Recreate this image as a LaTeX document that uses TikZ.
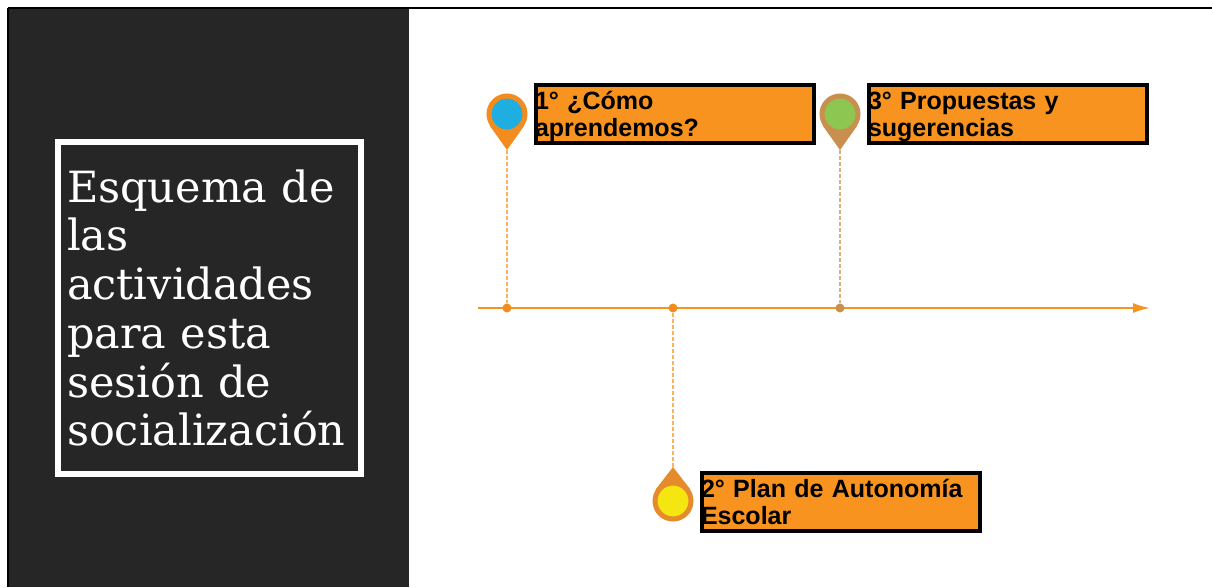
\documentclass[tikz,border=0pt]{standalone}
\usepackage{fontspec}
\setmainfont{DejaVu Serif}
\newfontfamily\boxfont{Liberation Sans}
\usetikzlibrary{positioning,arrows.meta}

\begin{document}
\begin{tikzpicture}[x=1pt,y=-1pt,
    titlebox/.style={draw=white,line width=5.5pt,fill=panel,text=white,minimum width=303pt,minimum height=332pt,inner sep=0pt,
      text width=285pt,align=left,font=\fontsize{43}{48.7}\selectfont},
    stepbox/.style={draw=black,line width=3.5pt,fill=boxorange,minimum width=278pt,minimum height=58pt,inner ysep=0pt,inner xsep=-1pt,
      text width=280pt,align=left,font=\boxfont\bfseries\fontsize{25}{27}\selectfont,
      execute at begin node=\rule{0pt}{24pt},execute at end node=\rule[-7pt]{0pt}{7pt}},
    pinhead/.style={circle,draw=#1,line width=5pt,inner sep=0pt,minimum size=36pt},
    tick/.style={circle,fill=#1,inner sep=0pt,minimum size=9pt},
    guide/.style={draw=#1,draw opacity=0.7,dashed,dash pattern=on 4pt off 2pt,line width=1.2pt},
    timeline/.style={draw=axisorange,line width=1.8pt,-{Latex[length=17pt,width=10pt]}}]
  \definecolor{panel}{HTML}{262626}
  \definecolor{boxorange}{HTML}{F7931E}
  \definecolor{axisorange}{HTML}{F7931E}
  \definecolor{pinorange}{HTML}{F28C1E}
  \definecolor{pinbrown}{HTML}{C98F4E}
  \definecolor{pindrop}{HTML}{E58B2B}
  \definecolor{pinblue}{HTML}{1FAEE0}
  \definecolor{pingreen}{HTML}{8DC650}
  \definecolor{pinyellow}{HTML}{F5E611}
  \useasboundingbox (0,0) rectangle (1212,587);
  \fill[white] (0,0) rectangle (1212,587);
  % dark side panel and top edge
  \fill[panel] (8,8) rectangle (409,587);
  \draw[black,line width=1.5pt] (8,8) -- (1212,8);
  \draw[black,line width=1.5pt] (8,8) -- (8,587);
  \node[titlebox] (title) at (209.5,308) {Esquema de\\las\\actividades\\para esta\\sesión de\\socialización};
  % timeline
  \coordinate (start) at (478,308);
  \coordinate (end) at (1150,308);
  \draw[timeline] (start) -- (end);
  \node[tick=pinorange] (T1) at (507,308) {};
  \node[tick=pinorange] (T2) at (673,308) {};
  \node[tick=pinbrown] (T3) at (840,308) {};
  % pin tips
  \coordinate (P1) at (507,150);
  \coordinate (P2) at (673,467);
  \coordinate (P3) at (840,150);
  \draw[guide=axisorange] (P1) -- (T1);
  \draw[guide=axisorange] (P2) -- (T2);
  \draw[guide=pinbrown] (P3) -- (T3);
  \fill[pinorange] (P1) -- (490,126) -- (524,126) -- cycle;
  \fill[pindrop] (P2) -- (656,489) -- (690,489) -- cycle;
  \fill[pinbrown] (P3) -- (823,126) -- (857,126) -- cycle;
  \node[pinhead=pinorange,fill=pinblue] (A) at (507,114) {};
  \node[pinhead=pindrop,fill=pinyellow] (B) at (673,501) {};
  \node[pinhead=pinbrown,fill=pingreen] (C) at (840,114) {};
  % labels
  \node[stepbox] (S1) at (675,114) {1° ¿Cómo\\aprendemos?};
  \node[stepbox] (S2) at (841,502) {2° Plan de Autonomía\\Escolar};
  \node[stepbox] (S3) at (1008,114) {3° Propuestas y\\sugerencias};
\end{tikzpicture}
\end{document}
